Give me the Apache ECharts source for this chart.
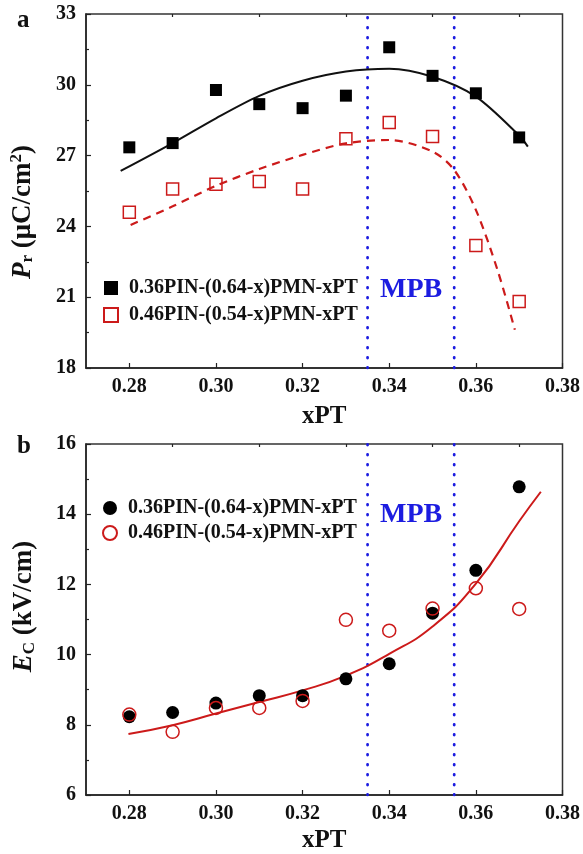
<!DOCTYPE html>
<html>
<head>
<meta charset="utf-8">
<script src="https://cdn.jsdelivr.net/npm/echarts@6/dist/echarts.min.js"></script>
<style>
  html, body { margin: 0; padding: 0; background: #fff; }
  #main { width: 583px; height: 854px; }
</style>
</head>
<body>
<div id="main"></div>
<script>
// composition xPT
const xPT = [0.28, 0.29, 0.30, 0.31, 0.32, 0.33, 0.34, 0.35, 0.36, 0.37];

// (a) remanent polarization Pr, uC/cm2
const prPin36 = [27.35, 27.53, 29.78, 29.18, 29.01, 29.54, 31.59, 30.38, 29.64, 27.77];
const prPin46 = [24.60, 25.59, 25.79, 25.90, 25.59, 27.71, 28.40, 27.81, 23.19, 20.82];

// (b) coercive field Ec, kV/cm
const ecPin36 = [8.23, 8.35, 8.62, 8.83, 8.83, 9.31, 9.74, 11.18, 12.40, 14.78];
const ecPin46 = [8.29, 7.80, 8.48, 8.48, 8.68, 10.99, 10.68, 11.31, 11.89, 11.30];

// fitted curves
const fitPrPin36X = [0.278, 0.29, 0.30, 0.31, 0.32, 0.33, 0.34, 0.35, 0.36, 0.37, 0.372];
const fitPrPin36Y = [26.35, 27.53, 28.58, 29.53, 30.17, 30.56, 30.68, 30.34, 29.50, 27.85, 27.38];
const fitPrPin46X = [0.2803, 0.29, 0.30, 0.31, 0.32, 0.33, 0.34, 0.35, 0.355, 0.36, 0.365, 0.369];
const fitPrPin46Y = [24.06, 24.85, 25.72, 26.43, 27.03, 27.52, 27.66, 27.17, 26.39, 24.70, 22.15, 19.62];
const fitEcX = [0.2798, 0.29, 0.30, 0.31, 0.32, 0.33, 0.34, 0.35, 0.36, 0.37, 0.375];
const fitEcY = [7.74, 7.99, 8.32, 8.65, 8.98, 9.40, 10.02, 10.80, 12.02, 13.80, 14.64];

// MPB boundaries
const mpbBounds = [0.335, 0.355];

// tick labels
const xMajorTicks = [0.28, 0.30, 0.32, 0.34, 0.36, 0.38];
const xMinorTicks = [0.29, 0.31, 0.33, 0.35, 0.37];

const legendNames = {
  a1: '0.36PIN-(0.64-x)PMN-xPT',
  a2: '0.46PIN-(0.54-x)PMN-xPT',
  b1: '0.36PIN-(0.64-x)PMN-xPT',
  b2: '0.46PIN-(0.54-x)PMN-xPT'
};

const zip = (xs, ys) => xs.map((x, i) => [x, ys[i]]);

const FONT = 'Liberation Serif';
const RED = '#cc1a1a';
const BLUE = '#1c1ce0';

const chart = echarts.init(document.getElementById('main'), null, { renderer: 'canvas' });

function xAxisMain(gridIndex, gap) {
  return {
    type: 'value', gridIndex: gridIndex, min: 0.27, max: 0.38,
    name: 'xPT', nameLocation: 'middle', nameGap: gap,
    nameTextStyle: { fontFamily: FONT, fontWeight: 'bold', fontSize: 25, color: '#111' },
    axisLine: { lineStyle: { color: '#222', width: 1.5 } },
    axisTick: { inside: true, length: 5, customValues: xMajorTicks, lineStyle: { color: '#222', width: 1.2 } },
    axisLabel: {
      customValues: xMajorTicks, margin: 9,
      fontFamily: FONT, fontWeight: 'bold', fontSize: 20, color: '#111',
      formatter: v => v.toFixed(2)
    },
    splitLine: { show: false }
  };
}

// overlay axes carrying only the short minor ticks
function xAxisMinor(gridIndex) {
  return {
    type: 'value', gridIndex: gridIndex, min: 0.27, max: 0.38,
    axisLine: { show: false },
    axisTick: { inside: true, length: 3, customValues: xMinorTicks, lineStyle: { color: '#222', width: 1.2 } },
    axisLabel: { show: false },
    splitLine: { show: false }
  };
}

const nameRich = {
  i: { fontFamily: FONT, fontWeight: 'bold', fontStyle: 'italic', fontSize: 27, color: '#111' },
  sub: { fontFamily: FONT, fontWeight: 'bold', fontSize: 17, color: '#111', padding: [0, 0, -10, 0] },
  sup: { fontFamily: FONT, fontWeight: 'bold', fontSize: 17, color: '#111', padding: [0, 0, 13, 0] }
};

function yAxis(gridIndex, min, max, interval, name, namePadding) {
  return {
    type: 'value', gridIndex: gridIndex, min: min, max: max, interval: interval,
    name: name, nameLocation: 'middle', nameGap: 48,
    nameTextStyle: {
      fontFamily: FONT, fontWeight: 'bold', fontSize: 27, color: '#111',
      padding: namePadding, rich: nameRich
    },
    axisLine: { lineStyle: { color: '#222', width: 1.5 } },
    axisTick: { inside: true, length: 5, lineStyle: { color: '#222', width: 1.2 } },
    minorTick: { show: true, splitNumber: 2, length: 3, lineStyle: { color: '#222', width: 1.2 } },
    axisLabel: { margin: 10, fontFamily: FONT, fontWeight: 'bold', fontSize: 20, color: '#111' },
    splitLine: { show: false }
  };
}

// vertical MPB boundary lines spanning each panel's y range
function mpbSeries(axisIndex, yMin, yMax) {
  return mpbBounds.map(b => ({
    type: 'line', xAxisIndex: axisIndex, yAxisIndex: axisIndex, silent: true,
    showSymbol: false, symbol: 'none',
    lineStyle: { color: BLUE, type: [0.5, 9.5], width: 2.8, cap: 'round' },
    data: [[b, yMin], [b, yMax]], z: 1
  }));
}

const option = {
  animation: false,
  backgroundColor: '#fff',
  grid: [
    { left: 86, top: 14, width: 479, height: 354, show: true, borderColor: '#333', borderWidth: 1.5 },
    { left: 86, top: 444, width: 479, height: 353, show: true, borderColor: '#333', borderWidth: 1.5 }
  ],
  xAxis: [xAxisMain(0, 36), xAxisMain(1, 33), xAxisMinor(0), xAxisMinor(1)],
  yAxis: [
    yAxis(0, 18, 33, 3, '{i|P}{sub|r} (μC/cm{sup|2})', [0, 42, 0, 0]),
    yAxis(1, 6, 16, 2, '{i|E}{sub|C} (kV/cm)', [0, 0, 0, 26])
  ],
  legend: [
    {
      orient: 'vertical', left: 98, top: 273, itemGap: 7, itemWidth: 14, itemHeight: 14,
      data: ['a1', 'a2'], selectedMode: false,
      formatter: n => legendNames[n],
      textStyle: { fontFamily: FONT, fontWeight: 'bold', fontSize: 20, color: '#111', padding: [0, 0, 0, 6] }
    },
    {
      orient: 'vertical', left: 97, top: 493, itemGap: 5, itemWidth: 14, itemHeight: 14,
      data: ['b1', 'b2'], selectedMode: false,
      formatter: n => legendNames[n],
      textStyle: { fontFamily: FONT, fontWeight: 'bold', fontSize: 20, color: '#111', padding: [0, 0, 0, 6] }
    }
  ],
  graphic: [
    { type: 'text', left: 17, top: 8, style: { text: 'a', font: 'bold 25px "Liberation Serif"', fill: '#111' } },
    { type: 'text', left: 17, top: 434, style: { text: 'b', font: 'bold 25px "Liberation Serif"', fill: '#111' } },
    { type: 'text', left: 380, top: 276, style: { text: 'MPB', font: 'bold 28px "Liberation Serif"', fill: BLUE } },
    { type: 'text', left: 380, top: 501, style: { text: 'MPB', font: 'bold 28px "Liberation Serif"', fill: BLUE } }
  ],
  series: [
    ...mpbSeries(0, 18, 33),
    ...mpbSeries(1, 6, 16),
    {
      name: 'fitA1', type: 'line', xAxisIndex: 0, yAxisIndex: 0, smooth: 0.3,
      showSymbol: false, lineStyle: { color: '#111', width: 2 },
      data: zip(fitPrPin36X, fitPrPin36Y), z: 2
    },
    {
      name: 'fitA2', type: 'line', xAxisIndex: 0, yAxisIndex: 0, smooth: 0.3,
      showSymbol: false, lineStyle: { color: RED, width: 2.2, type: [8, 6] },
      data: zip(fitPrPin46X, fitPrPin46Y), z: 2
    },
    {
      name: 'a1', type: 'scatter', xAxisIndex: 0, yAxisIndex: 0, symbol: 'rect', symbolSize: 12,
      itemStyle: { color: '#000', opacity: 1 }, data: zip(xPT, prPin36), z: 4
    },
    {
      name: 'a2', type: 'scatter', xAxisIndex: 0, yAxisIndex: 0, symbol: 'rect', symbolSize: 12,
      itemStyle: { color: 'transparent', borderColor: RED, borderWidth: 1.5, opacity: 1 },
      data: zip(xPT, prPin46), z: 4
    },
    {
      name: 'fitB', type: 'line', xAxisIndex: 1, yAxisIndex: 1, smooth: 0.5,
      showSymbol: false, lineStyle: { color: RED, width: 2 },
      data: zip(fitEcX, fitEcY), z: 2
    },
    {
      name: 'b1', type: 'scatter', xAxisIndex: 1, yAxisIndex: 1, symbol: 'circle', symbolSize: 13,
      itemStyle: { color: '#000', opacity: 1 }, data: zip(xPT, ecPin36), z: 4
    },
    {
      name: 'b2', type: 'scatter', xAxisIndex: 1, yAxisIndex: 1, symbol: 'circle', symbolSize: 13,
      itemStyle: { color: 'transparent', borderColor: RED, borderWidth: 1.5, opacity: 1 },
      data: zip(xPT, ecPin46), z: 5
    }
  ]
};

chart.setOption(option);
</script>
</body>
</html>
